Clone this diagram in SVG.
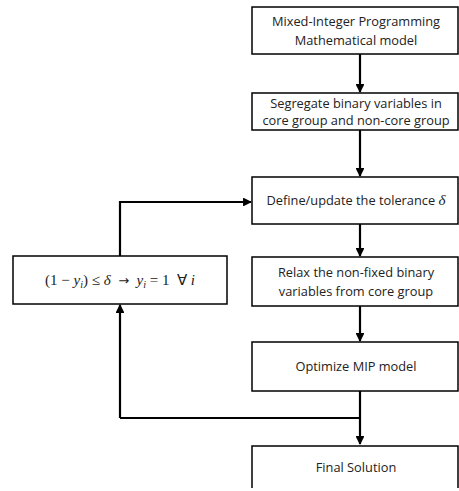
<svg xmlns="http://www.w3.org/2000/svg" width="459" height="491" viewBox="0 0 459 491">
<defs>
<marker id="ah" viewBox="0 0 10 10" refX="9" refY="5" markerWidth="4" markerHeight="4" orient="auto" markerUnits="strokeWidth"><path d="M0,0 L10,5 L0,10 z" fill="#000"/></marker>
<style>
.box{fill:#fff;stroke:#000;stroke-width:1.5}
.t{font-family:"Open Sans","Liberation Sans",sans-serif;font-size:12.8px;fill:#222;text-anchor:middle}
.m{font-family:"Liberation Serif",serif;font-size:15px;fill:#222}
.c{fill:none;stroke:#000;stroke-width:2.2;marker-end:url(#ah)}
.l{fill:none;stroke:#000;stroke-width:2.2}
</style>
</defs>
<g id="connectors">
<path class="c" d="M360,54 V92"/>
<path class="c" d="M360,130 V176"/>
<path class="c" d="M360,224 V256"/>
<path class="c" d="M360,306 V341"/>
<path class="c" d="M360,391 V444"/>
<path class="l" d="M360,418 H120"/>
<path class="c" d="M120,418 V305"/>
<path class="c" d="M120,256 V202 H251"/>
</g>
<g id="n1"><rect class="box" x="252" y="7" width="206" height="47"/><text class="t" x="356" y="26">Mixed-Integer Programming</text><text class="t" x="356" y="45">Mathematical model</text></g>
<g id="n2"><rect class="box" x="252" y="93" width="206" height="37"/><text class="t" x="356" y="108">Segregate binary variables in</text><text class="t" x="356" y="125">core group and non-core group</text></g>
<g id="n3"><rect class="box" x="252" y="177" width="206" height="47"/><text class="t" x="356" y="205">Define/update the tolerance <tspan class="m" font-style="italic" font-size="14">δ</tspan></text></g>
<g id="n4"><rect class="box" x="252" y="257" width="206" height="49"/><text class="t" x="356" y="277">Relax the non-fixed binary</text><text class="t" x="356" y="296">variables from core group</text></g>
<g id="n5"><rect class="box" x="252" y="342" width="206" height="49"/><text class="t" x="356" y="371">Optimize MIP model</text></g>
<g id="n6"><path class="box" d="M252,488 V446 H458 V488"/><text class="t" x="356" y="472">Final Solution</text></g>
<g id="n7"><rect class="box" x="13" y="256" width="214" height="48"/><text class="m" x="120" y="285" text-anchor="middle" xml:space="preserve" style="white-space:pre">(1 − <tspan font-style="italic">y</tspan><tspan font-style="italic" font-size="10" dy="3">i</tspan><tspan dy="-3">) ≤ </tspan><tspan font-style="italic">δ</tspan>  <tspan font-family="DejaVu Sans" font-size="13">→</tspan>  <tspan font-style="italic">y</tspan><tspan font-style="italic" font-size="10" dy="3">i</tspan><tspan dy="-3"> = 1  ∀ </tspan><tspan font-style="italic">i</tspan></text></g>
</svg>
